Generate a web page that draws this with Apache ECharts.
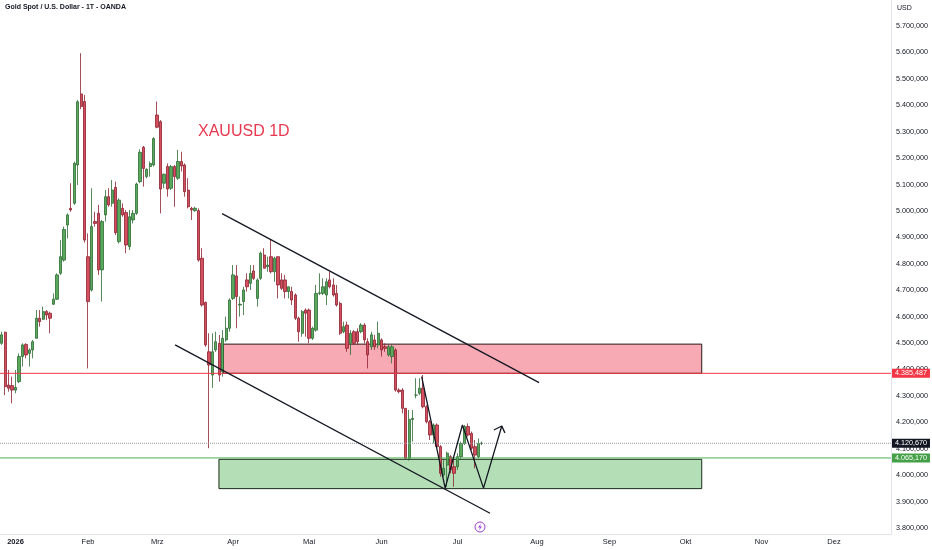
<!DOCTYPE html>
<html><head><meta charset="utf-8">
<script src="https://cdn.jsdelivr.net/npm/echarts@6/dist/echarts.min.js"></script>
<style>html,body{margin:0;padding:0;background:#fff}#c{width:932px;height:550px}</style>
</head><body><div id="c"></div>
<script>
// ---- candle values (idx -4 .. 135) ----
const openP = [4499,4541,4341,4339,
 4322,4354,4449,4495,4461,4474,4518,4594,4590,4619,
 4613,4647,4666,4764,4814,4947,5010,5029,5174,5443,
 5414,4827,4701,4960,4991,4777,4985,5054,5029,5089,
 4884,5010,4994,4865,4966,4991,5111,5241,5130,5168,
 5174,5363,5338,5105,5168,5086,5168,5124,5187,5174,
 5079,5010,5001,5001,4821,4654,4467,4379,4474,4499,
 4392,4512,4556,4669,4754,4644,4657,4739,4726,4773,
 4669,4745,4833,4789,4827,4770,4827,4739,4739,4695,
 4695,4682,4594,4537,4625,4625,4518,4549,4688,4688,
 4682,4739,4720,4688,4650,4543,4568,4499,4543,4543,
 4543,4568,4505,4486,4512,4493,4512,4486,4455,4449,
 4474,4322,4322,4253,4064,4211,4303,4310,4329,4259,
 4202,4152,4190,4108,4001,4038,4070,4032,4032,4070,
 4120,4184,4158,4108,4070,4120];
const closeP = [4531,4335,4329,4322,
 4332,4449,4493,4455,4474,4505,4594,4581,4619,4606,
 4594,4666,4758,4827,4930,4985,5004,5180,5413,5395,
 4890,4657,4941,4953,4777,4960,5054,5023,5079,4918,
 5041,4985,4871,4978,4991,5102,5222,5161,5158,5180,
 5274,5317,5083,5139,5083,5168,5130,5187,5170,5073,
 5016,5004,5010,4814,4644,4493,4417,4467,4505,4379,
 4518,4556,4663,4758,4676,4647,4701,4713,4764,4745,
 4739,4840,4783,4795,4770,4821,4720,4707,4695,4713,
 4663,4594,4543,4619,4613,4518,4556,4688,4690,4713,
 4732,4713,4682,4644,4537,4562,4480,4537,4499,4505,
 4568,4512,4455,4531,4486,4537,4474,4480,4486,4486,
 4322,4316,4253,4064,4211,4215,4303,4329,4259,4202,
 4152,4190,4108,4007,4026,4083,4020,4007,4070,4120,
 4184,4152,4102,4076,4120,4120.67];
const lowP = [4493,4303,4316,4272,
 4310,4348,4411,4442,4411,4442,4518,4562,4587,4587,
 4537,4644,4663,4758,4808,4896,4997,5023,5098,5385,
 4880,4404,4695,4941,4758,4657,4960,5016,5016,4909,
 4877,4978,4840,4852,4953,4985,5105,5092,5124,5130,
 5168,5313,4991,5086,5054,5079,5016,5117,5149,5054,
 5010,4966,4997,4808,4638,4486,4102,4330,4467,4354,
 4373,4505,4543,4663,4556,4600,4606,4695,4701,4739,
 4638,4739,4783,4770,4764,4732,4669,4701,4669,4669,
 4644,4587,4505,4524,4524,4499,4512,4543,4682,4682,
 4644,4707,4676,4638,4531,4537,4467,4455,4493,4493,
 4537,4499,4404,4474,4474,4480,4449,4467,4449,4423,
 4316,4310,4234,4060,4055,4127,4291,4303,4253,4196,
 4133,4120,4102,3994,3994,3956,4007,3956,4020,4057,
 4114,4146,4095,4026,4064,4114];
const highP = [4543,4543,4398,4373,
 4398,4461,4499,4499,4480,4512,4625,4625,4638,4625,
 4619,4688,4764,4890,4941,4991,5105,5187,5420,5597,
 5439,4915,5086,4997,5023,4966,5079,5086,5117,5111,
 5048,5029,5004,5004,5004,5107,5233,5246,5161,5187,
 5279,5414,5344,5142,5180,5174,5174,5231,5224,5180,
 5124,5016,5016,5010,4859,4657,4537,4537,4543,4531,
 4549,4600,4669,4795,4795,4676,4713,4764,4795,4795,
 4745,4846,4859,4827,4890,4827,4827,4764,4758,4713,
 4713,4688,4600,4625,4631,4631,4562,4720,4764,4745,
 4745,4770,4745,4720,4657,4581,4581,4549,4549,4556,
 4575,4575,4518,4543,4531,4581,4518,4499,4493,4493,
 4480,4329,4329,4253,4247,4246,4367,4367,4379,4265,
 4209,4196,4196,4114,4057,4089,4076,4057,4083,4127,
 4190,4196,4165,4133,4139,4127];

// ---- axis labels ----
const priceTicks = [3800,3900,4000,4100,4200,4300,4400,4500,4600,4700,4800,4900,5000,5100,5200,5300,5400,5500,5600,5700];
const monthNames = ['2026','Feb','Mrz','Apr','Mai','Jun','Jul','Aug','Sep','Okt','Nov','Dez'];

// ---- horizontal levels ----
const resistanceLevel = 4385.487;
const supportLevel = 4065.170;
const lastPrice = 4120.670;

// ---- drawings in data coordinates [bar index, price] ----
const pinkZone = [[60.2, 4385.487], [198.7, 4496]];
const greenZone = [[58.9, 3949], [198.7, 4060]];
const upperTrend = [[59.8, 4990], [151.6, 4350]];
const lowerTrend = [[46.2, 4493], [137.4, 3856]];
const zigzag = [[117.6, 4373], [124.4, 3951], [129.4, 4190], [135.5, 3951], [140.8, 4186]];
const arrowHead = [[138.5, 4171], [140.8, 4186], [141.7, 4160]];

// trading-day categories (weekdays, without 1 Jan)
const cats = [];
{
  const d = new Date(Date.UTC(2025, 11, 26));
  while (cats.length < 258) {
    const wd = d.getUTCDay();
    const s = d.toISOString().slice(0, 10);
    if (wd !== 0 && wd !== 6 && s !== '2026-01-01') cats.push(s);
    d.setUTCDate(d.getUTCDate() + 1);
  }
}
const X_MIN = -4.5, X_MAX = cats.length - 4.5;
const isMonthStart = (i) => i > 0 && i < cats.length && cats[i].slice(0, 7) !== cats[i - 1].slice(0, 7);
const candles = openP.map((o, i) => [o, closeP[i], lowP[i], highP[i]]);

function fmt(v) {
  const parts = Number(v).toFixed(3).split('.');
  return parts[0].replace(/\B(?=(\d{3})+(?!\d))/g, '.') + ',' + parts[1];
}

const FONT = 'Liberation Sans';
const chart = echarts.init(document.getElementById('c'));

function levelSeries(level, color, bg, type) {
  return {
    type: 'line', xAxisIndex: 1, z: 4, silent: true, symbol: 'none',
    data: [[X_MIN, level], [X_MAX, level]],
    itemStyle: { color: color },
    lineStyle: { color: color, width: 1, type: type, opacity: 1 },
    endLabel: {
      show: true, formatter: fmt(level), distance: 1, color: '#fff', fontSize: 7.2, fontFamily: FONT,
      padding: [1, 3, 1, 3], backgroundColor: bg
    }
  };
}

chart.setOption({
  animation: false,
  backgroundColor: '#fff',
  grid: { left: 0, right: 41, top: 0, bottom: 16 },
  xAxis: [{
    type: 'category', data: cats, boundaryGap: true,
    axisLine: { show: true, onZero: false, lineStyle: { color: '#e0e3eb' } },
    axisTick: { show: false }, splitLine: { show: false },
    axisLabel: {
      interval: (i) => isMonthStart(i),
      formatter: (v, i) => {
        if (!isMonthStart(i)) return '';
        const m = +v.slice(5, 7);
        return m === 1 ? '{b|' + monthNames[0] + '}' : monthNames[m - 1];
      },
      fontSize: 7.5, color: '#131722', fontFamily: FONT, margin: 4,
      rich: { b: { fontWeight: 'bold', fontSize: 7.5, color: '#131722', fontFamily: FONT } }
    }
  }, {
    type: 'value', min: X_MIN, max: X_MAX, show: false
  }],
  yAxis: {
    type: 'value', position: 'right', min: 3777.3, max: 5798.5,
    splitLine: { show: false },
    axisLine: { show: true, onZero: false, lineStyle: { color: '#e0e3eb' } },
    axisTick: { show: false },
    axisLabel: { customValues: priceTicks, formatter: fmt, fontSize: 7.2, color: '#131722', fontFamily: FONT, margin: 5 }
  },
  series: [
    {
      type: 'line', xAxisIndex: 1, data: [], z: 1, silent: true,
      markArea: {
        silent: true,
        data: [
          [{ xAxis: pinkZone[0][0], yAxis: pinkZone[0][1], itemStyle: { color: '#f8aab4', borderColor: '#2a1a1a', borderWidth: 1 } },
           { xAxis: pinkZone[1][0], yAxis: pinkZone[1][1] }],
          [{ xAxis: greenZone[0][0], yAxis: greenZone[0][1], itemStyle: { color: '#b4deb5', borderColor: '#1a2a1a', borderWidth: 1 } },
           { xAxis: greenZone[1][0], yAxis: greenZone[1][1] }]
        ]
      }
    },
    {
      type: 'candlestick', xAxisIndex: 0, data: candles, z: 3, barWidth: 2.8,
      itemStyle: { color: '#5aa85c', color0: '#d4505f', borderColor: '#2c6b33', borderColor0: '#8d2130', borderWidth: 0.8 }
    },
    levelSeries(lastPrice, '#9598a1', '#131722', 'dotted'),
    levelSeries(supportLevel, '#4caf50', '#43a047', 'solid'),
    levelSeries(resistanceLevel, '#f23645', '#f23645', 'solid'),
    { type: 'line', xAxisIndex: 1, data: upperTrend, symbol: 'none', z: 5, lineStyle: { color: '#131722', width: 1.3 } },
    { type: 'line', xAxisIndex: 1, data: lowerTrend, symbol: 'none', z: 5, lineStyle: { color: '#131722', width: 1.3 } },
    { type: 'line', xAxisIndex: 1, data: zigzag, symbol: 'none', z: 5, lineStyle: { color: '#131722', width: 1.3 } },
    { type: 'line', xAxisIndex: 1, data: arrowHead, symbol: 'none', z: 5, lineStyle: { color: '#131722', width: 1.3 } }
  ],
  graphic: [
    { type: 'text', left: 5, top: 4, style: { text: 'Gold Spot / U.S. Dollar - 1T - OANDA', fontSize: 7, fontWeight: 'bold', fontFamily: FONT, fill: '#131722' } },
    { type: 'text', left: 897, top: 5, style: { text: 'USD', fontSize: 7, fontFamily: FONT, fill: '#131722' } },
    { type: 'text', left: 198, top: 124, style: { text: 'XAUUSD 1D', fontSize: 16, fontFamily: FONT, fill: '#e8384f' } },
    { type: 'circle', shape: { cx: 480, cy: 527, r: 5 }, style: { fill: '#fff', stroke: '#a03fd0', lineWidth: 1 } },
    { type: 'polygon', shape: { points: [[481, 523.5], [478, 527.5], [480, 527.5], [479, 530.5], [482, 526.5], [480, 526.5]] }, style: { fill: '#a03fd0' } }
  ]
});
</script></body></html>
